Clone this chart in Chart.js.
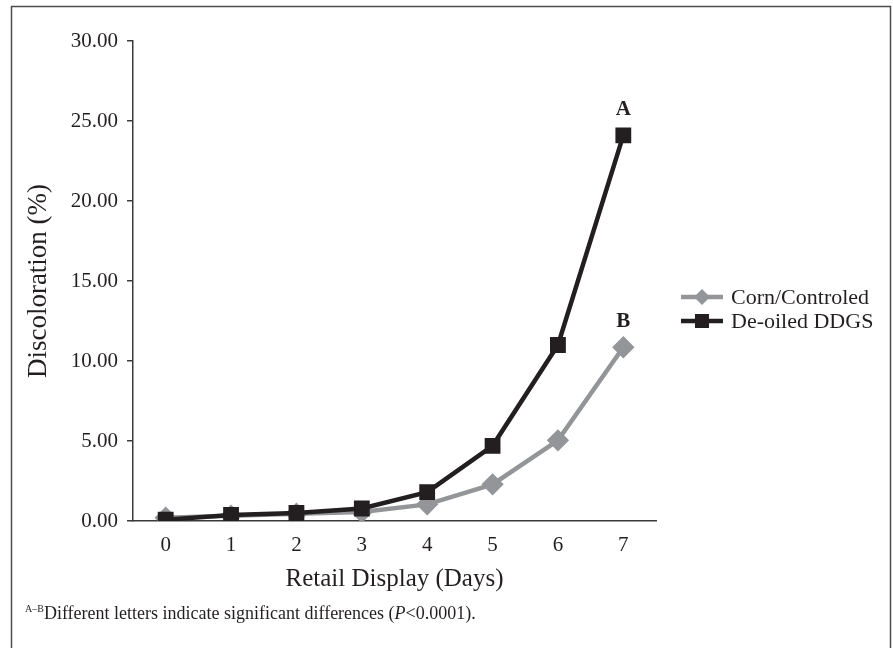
<!DOCTYPE html>
<html>
<head>
<meta charset="utf-8">
<script src="https://cdn.jsdelivr.net/npm/chart.js@4"></script>
<style>
  html, body { margin: 0; padding: 0; background: #fff; }
  #c { display: block; }
</style>
</head>
<body>
<canvas id="c" width="893" height="648"></canvas>
<script>
// ---- data ----
const days = ['0', '1', '2', '3', '4', '5', '6', '7'];
const cornControled = [0.20, 0.33, 0.45, 0.56, 1.04, 2.29, 5.04, 10.86];
const deoiledDDGS = [0.08, 0.38, 0.50, 0.78, 1.80, 4.70, 11.00, 24.10];
const seriesNames = ['Corn/Controled', 'De-oiled DDGS'];
const sigLetters = ['B', 'A'];
const yTickValues = [0, 5, 10, 15, 20, 25, 30];
const footnoteSup = 'A\u2013B';
const footnoteText = 'Different letters indicate significant differences (';
const footnoteItalic = 'P';
const footnoteEnd = '<0.0001).';

const SERIF = '"Liberation Serif", "Times New Roman", serif';
const GREY = '#939598';
const BLACK = '#231f20';
const AXIS = '#3a3a3a';

const decor = {
  id: 'decor',
  afterDraw(chart) {
    const ctx = chart.ctx;
    const xs = chart.scales.x, ys = chart.scales.y;
    ctx.save();
    // outer frame
    ctx.strokeStyle = '#4d4d4d';
    ctx.lineWidth = 1.5;
    ctx.beginPath();
    ctx.moveTo(11.5, 660);
    ctx.lineTo(11.5, 6.5);
    ctx.lineTo(890.5, 6.5);
    ctx.lineTo(890.5, 660);
    ctx.stroke();

    // significance letters
    ctx.fillStyle = BLACK;
    ctx.font = 'bold 21px ' + SERIF;
    ctx.textAlign = 'center';
    ctx.textBaseline = 'alphabetic';
    chart.data.datasets.forEach((ds, i) => {
      const last = ds.data.length - 1;
      const px = xs.getPixelForValue(last);
      const py = ys.getPixelForValue(ds.data[last]);
      ctx.fillText(sigLetters[i], px, py - 20);
    });

    // legend
    ctx.font = '22px ' + SERIF;
    ctx.textAlign = 'left';
    ctx.textBaseline = 'middle';
    const legY = [297, 321];
    chart.data.datasets.forEach((ds, i) => {
      const y = legY[i];
      ctx.strokeStyle = ds.borderColor;
      ctx.lineWidth = 4.5;
      ctx.beginPath();
      ctx.moveTo(681, y);
      ctx.lineTo(723, y);
      ctx.stroke();
      ctx.fillStyle = ds.pointBackgroundColor;
      if (ds.pointStyle === 'rect') {
        ctx.fillRect(702 - 7, y - 7, 14, 14);
      } else {
        ctx.beginPath();
        ctx.moveTo(702, y - 8);
        ctx.lineTo(710, y);
        ctx.lineTo(702, y + 8);
        ctx.lineTo(694, y);
        ctx.closePath();
        ctx.fill();
      }
      ctx.fillStyle = BLACK;
      ctx.fillText(ds.label, 731, y + 1);
    });

    // footnote
    ctx.fillStyle = BLACK;
    ctx.textBaseline = 'alphabetic';
    ctx.font = '10px ' + SERIF;
    ctx.fillText(footnoteSup, 25, 612);
    let x = 25 + ctx.measureText(footnoteSup).width;
    ctx.font = '18px ' + SERIF;
    ctx.fillText(footnoteText, x, 619);
    x += ctx.measureText(footnoteText).width;
    ctx.font = 'italic 18px ' + SERIF;
    ctx.fillText(footnoteItalic, x, 619);
    x += ctx.measureText(footnoteItalic).width;
    ctx.font = '18px ' + SERIF;
    ctx.fillText(footnoteEnd, x, 619);
    ctx.restore();
  }
};

new Chart(document.getElementById('c'), {
  type: 'line',
  data: {
    labels: days,
    datasets: [
      {
        label: seriesNames[0],
        data: cornControled,
        borderColor: GREY,
        backgroundColor: GREY,
        pointBackgroundColor: GREY,
        pointBorderColor: GREY,
        pointStyle: 'rectRot',
        pointRadius: 8,
        borderWidth: 4.5,
        tension: 0,
        order: 2
      },
      {
        label: seriesNames[1],
        data: deoiledDDGS,
        borderColor: BLACK,
        backgroundColor: BLACK,
        pointBackgroundColor: BLACK,
        pointBorderColor: BLACK,
        pointStyle: 'rect',
        pointRadius: 8,
        borderWidth: 4.5,
        tension: 0,
        order: 1
      }
    ]
  },
  options: {
    responsive: false,
    animation: false,
    devicePixelRatio: 1,
    layout: { padding: { left: 12, right: 237, top: 41, bottom: 0 } },
    plugins: {
      legend: { display: false },
      tooltip: { enabled: false },
      title: { display: false }
    },
    scales: {
      x: {
        type: 'category',
        offset: true,
        grid: { display: false, drawTicks: false },
        border: { display: true, color: AXIS, width: 1.5 },
        ticks: { color: BLACK, font: { family: SERIF, size: 21 }, padding: 12, maxRotation: 0 },
        title: {
          display: true, text: 'Retail Display (Days)', color: BLACK,
          font: { family: SERIF, size: 25 }, padding: { top: 0, bottom: 54 }
        },
        afterFit(s) { s.height = 127; }
      },
      y: {
        min: 0, max: 30,
        afterBuildTicks(s) { s.ticks = yTickValues.map(v => ({ value: v })); },
        grid: { display: true, drawOnChartArea: false, drawTicks: true, tickLength: 6, color: AXIS, lineWidth: 1.5 },
        border: { display: true, color: AXIS, width: 1.5 },
        ticks: {
          color: BLACK, font: { family: SERIF, size: 21 }, padding: 9,
          callback: v => Number(v).toFixed(2)
        },
        title: {
          display: true, text: 'Discoloration (%)', color: BLACK,
          font: { family: SERIF, size: 27 }, padding: { top: 11, bottom: 0 }
        },
        afterFit(s) { s.width = 121; }
      }
    }
  },
  plugins: [decor]
});
</script>
</body>
</html>
